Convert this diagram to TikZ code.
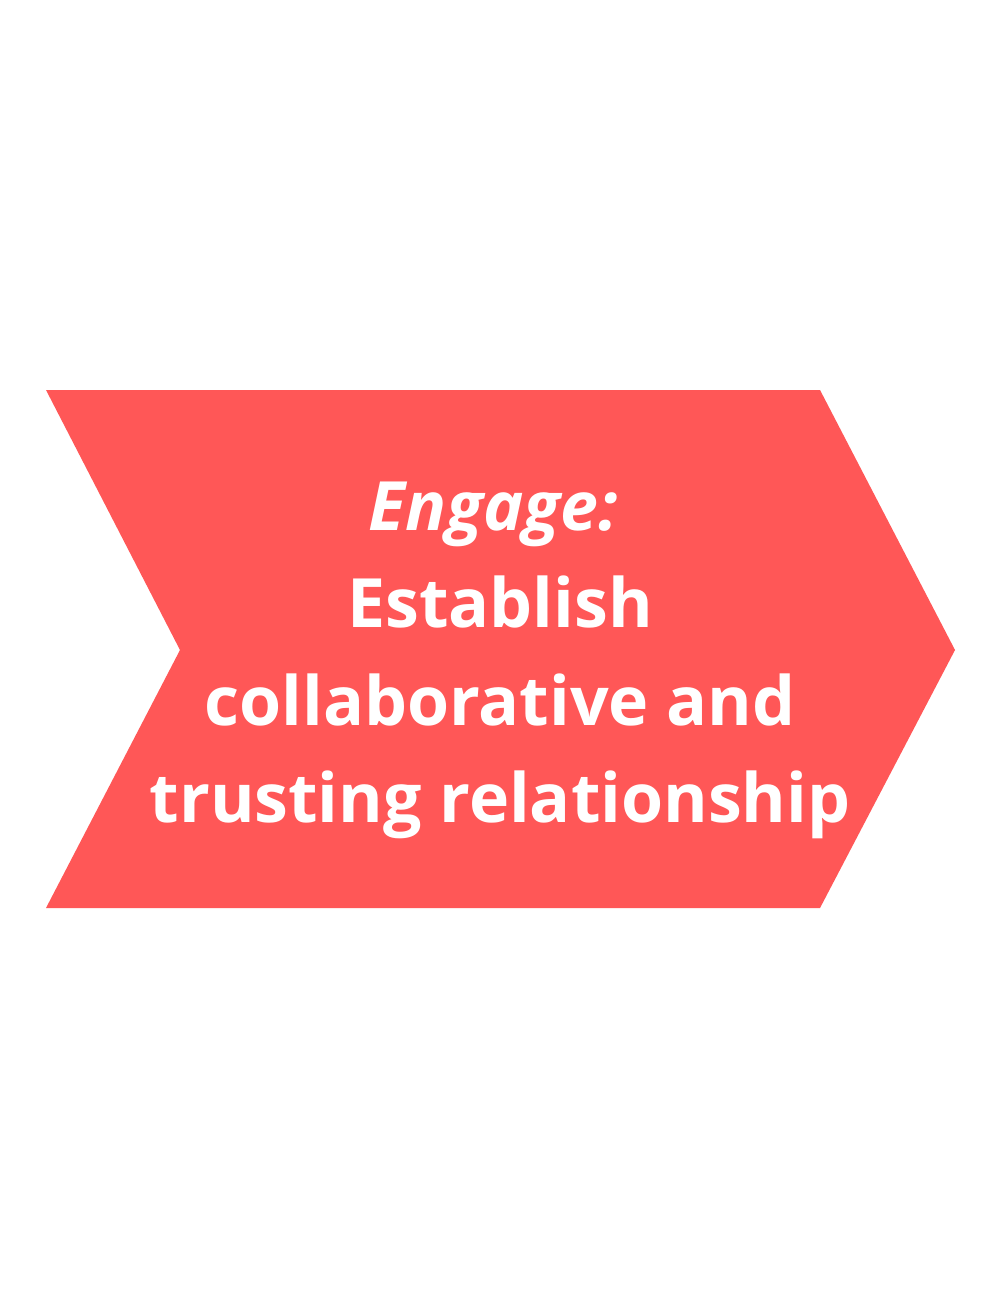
\documentclass[tikz,border=0pt]{standalone}
\usepackage{fontspec}
\setmainfont{Open Sans}
\usepackage{tikz}
\definecolor{coral}{HTML}{FF5757}
\tikzset{
  label text/.style={text=white, font=\fontsize{38.7}{44}\selectfont\bfseries, anchor=base, inner sep=0pt}
}

\begin{document}
\begin{tikzpicture}[x=0.02cm, y=-0.02cm]
			\useasboundingbox[fill=white] (0,0) rectangle (1000,1300);
			\fill[coral] (46,390) -- (820,390) -- (955,650) -- (820,908) -- (46,908) -- (180,650) -- cycle;
			\node[label text] (engage) at (493,530) {\itshape Engage:};
			\node[label text] (line1) at (500,627) {Establish};
			\node[label text] (line2) at (500,725) {collaborative and};
			\node[label text] (line3) at (500,822) {trusting relationship};
		\end{tikzpicture}
\end{document}
